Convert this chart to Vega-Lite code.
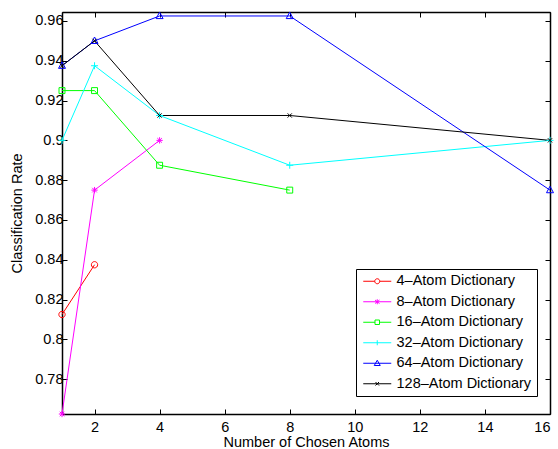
{
  "$schema": "https://vega.github.io/schema/vega-lite/v6.json",
  "width": 488,
  "height": 402,
  "autosize": {"type": "none"},
  "padding": {"left": 62, "top": 12, "right": 8, "bottom": 35},
  "background": "white",
  "config": {
    "font": "Liberation Sans",
    "view": {"stroke": "black", "strokeWidth": 1},
    "axis": {
      "domainColor": "black", "domainWidth": 1.5, "tickColor": "black", "tickWidth": 1,
      "tickSize": -5, "labelColor": "black", "labelFont": "Liberation Sans", "labelFontSize": 14.5,
      "titleFont": "Liberation Sans", "titleFontSize": 14.5, "titleFontWeight": "normal", "titleColor": "black",
      "grid": false
    },
    "legend": {
      "orient": "none", "legendX": 294, "legendY": 257, "strokeColor": "black", "fillColor": "white",
      "padding": 5, "labelFont": "Liberation Sans", "labelFontSize": 14.5, "labelColor": "black",
      "rowPadding": 5.5, "symbolSize": 100, "symbolOffset": 9, "labelOffset": 12, "symbolStrokeWidth": 1
    },
    "point": {"filled": false, "strokeWidth": 1, "size": 49, "opacity": 1, "clip": false}
  },
  "data": {"values": [
    {"n": 1, "rate": 0.8125, "dict": "4–Atom Dictionary"},
    {"n": 2, "rate": 0.8375, "dict": "4–Atom Dictionary"},
    {"n": 1, "rate": 0.7625, "dict": "8–Atom Dictionary"},
    {"n": 2, "rate": 0.875, "dict": "8–Atom Dictionary"},
    {"n": 4, "rate": 0.9, "dict": "8–Atom Dictionary"},
    {"n": 1, "rate": 0.925, "dict": "16–Atom Dictionary"},
    {"n": 2, "rate": 0.925, "dict": "16–Atom Dictionary"},
    {"n": 4, "rate": 0.8875, "dict": "16–Atom Dictionary"},
    {"n": 8, "rate": 0.875, "dict": "16–Atom Dictionary"},
    {"n": 1, "rate": 0.9, "dict": "32–Atom Dictionary"},
    {"n": 2, "rate": 0.9375, "dict": "32–Atom Dictionary"},
    {"n": 4, "rate": 0.9125, "dict": "32–Atom Dictionary"},
    {"n": 8, "rate": 0.8875, "dict": "32–Atom Dictionary"},
    {"n": 16, "rate": 0.9, "dict": "32–Atom Dictionary"},
    {"n": 1, "rate": 0.9375, "dict": "64–Atom Dictionary"},
    {"n": 2, "rate": 0.95, "dict": "64–Atom Dictionary"},
    {"n": 4, "rate": 0.9625, "dict": "64–Atom Dictionary"},
    {"n": 8, "rate": 0.9625, "dict": "64–Atom Dictionary"},
    {"n": 16, "rate": 0.875, "dict": "64–Atom Dictionary"},
    {"n": 1, "rate": 0.9375, "dict": "128–Atom Dictionary"},
    {"n": 2, "rate": 0.95, "dict": "128–Atom Dictionary"},
    {"n": 4, "rate": 0.9125, "dict": "128–Atom Dictionary"},
    {"n": 8, "rate": 0.9125, "dict": "128–Atom Dictionary"},
    {"n": 16, "rate": 0.9, "dict": "128–Atom Dictionary"}
  ]},
  "layer": [
    {
      "mark": {"type": "line", "strokeWidth": 1, "clip": false},
      "encoding": {
        "x": {"field": "n", "type": "quantitative", "scale": {"domain": [1, 16], "nice": false, "zero": false},
              "axis": {"orient": "bottom", "values": [2, 4, 6, 8, 10, 12, 14, 16], "labelPadding": 11, "title": "Number of Chosen Atoms", "titlePadding": 2}},
        "y": {"field": "rate", "type": "quantitative", "scale": {"domain": [0.7625, 0.9645], "nice": false, "zero": false},
              "axis": {"orient": "left", "values": [0.78, 0.8, 0.82, 0.84, 0.86, 0.88, 0.9, 0.92, 0.94, 0.96], "format": "~g", "labelPadding": 4, "title": "Classification Rate", "titlePadding": 10}},
        "color": {"field": "dict", "type": "nominal",
          "scale": {"domain": ["4–Atom Dictionary", "8–Atom Dictionary", "16–Atom Dictionary", "32–Atom Dictionary", "64–Atom Dictionary", "128–Atom Dictionary"],
                    "range": ["#ff0000", "#ff00ff", "#00ff00", "#00ffff", "#0000ff", "#000000"]},
          "legend": {"title": null, "symbolSize": 100}}
      }
    },
    {
      "transform": [{"filter": "datum.dict === '4–Atom Dictionary'"}],
      "mark": {"type": "point", "shape": "M-0.9,0A0.9,0.9,0,1,0,0.9,0A0.9,0.9,0,1,0,-0.9,0"},
      "encoding": {
        "x": {"field": "n", "type": "quantitative", "axis": {"orient": "top", "values": [2, 4, 6, 8, 10, 12, 14, 16], "labels": false, "title": null}},
        "y": {"field": "rate", "type": "quantitative", "axis": {"orient": "right", "values": [0.78, 0.8, 0.82, 0.84, 0.86, 0.88, 0.9, 0.92, 0.94, 0.96], "labels": false, "title": null}},
        "color": {"field": "dict", "type": "nominal"}
      }
    },
    {
      "transform": [{"filter": "datum.dict === '8–Atom Dictionary'"}],
      "mark": {"type": "point", "shape": "M-0.9,0L0.9,0M0,-0.9L0,0.9M-0.65,-0.65L0.65,0.65M-0.65,0.65L0.65,-0.65"},
      "encoding": {
        "x": {"field": "n", "type": "quantitative", "axis": null},
        "y": {"field": "rate", "type": "quantitative", "axis": null},
        "color": {"field": "dict", "type": "nominal"}
      }
    },
    {
      "transform": [{"filter": "datum.dict === '16–Atom Dictionary'"}],
      "mark": {"type": "point", "shape": "M-0.85,-0.85L0.85,-0.85L0.85,0.85L-0.85,0.85Z"},
      "encoding": {
        "x": {"field": "n", "type": "quantitative", "axis": null},
        "y": {"field": "rate", "type": "quantitative", "axis": null},
        "color": {"field": "dict", "type": "nominal"}
      }
    },
    {
      "transform": [{"filter": "datum.dict === '32–Atom Dictionary'"}],
      "mark": {"type": "point", "shape": "M-1,0L1,0M0,-1L0,1"},
      "encoding": {
        "x": {"field": "n", "type": "quantitative", "axis": null},
        "y": {"field": "rate", "type": "quantitative", "axis": null},
        "color": {"field": "dict", "type": "nominal"}
      }
    },
    {
      "transform": [{"filter": "datum.dict === '64–Atom Dictionary'"}],
      "mark": {"type": "point", "shape": "M0,-1.1L1,0.75L-1,0.75Z"},
      "encoding": {
        "x": {"field": "n", "type": "quantitative", "axis": null},
        "y": {"field": "rate", "type": "quantitative", "axis": null},
        "color": {"field": "dict", "type": "nominal"}
      }
    },
    {
      "transform": [{"filter": "datum.dict === '128–Atom Dictionary'"}],
      "mark": {"type": "point", "shape": "M-0.6,-0.6L0.6,0.6M-0.6,0.6L0.6,-0.6"},
      "encoding": {
        "x": {"field": "n", "type": "quantitative", "axis": null},
        "y": {"field": "rate", "type": "quantitative", "axis": null},
        "color": {"field": "dict", "type": "nominal"}
      }
    },
    {
      "transform": [{"filter": "false"}],
      "mark": {"type": "point", "size": 100},
      "encoding": {
        "x": {"field": "n", "type": "quantitative", "axis": null},
        "y": {"field": "rate", "type": "quantitative", "axis": null},
        "color": {"field": "dict", "type": "nominal", "legend": {"title": null, "symbolSize": 100}},
        "shape": {"field": "dict", "type": "nominal", "legend": {"title": null, "symbolSize": 100},
          "scale": {"domain": ["4–Atom Dictionary", "8–Atom Dictionary", "16–Atom Dictionary", "32–Atom Dictionary", "64–Atom Dictionary", "128–Atom Dictionary"],
                    "range": ["M-2.8,0L-0.5,0M0.5,0L2.8,0M-0.5,0A0.5,0.5,0,1,0,0.5,0A0.5,0.5,0,1,0,-0.5,0", "M-2.8,0L2.8,0M0,-0.5L0,0.5M-0.45,-0.35L0.45,0.35M-0.45,0.35L0.45,-0.35", "M-2.8,0L-0.45,0M0.45,0L2.8,0M-0.45,-0.45L0.45,-0.45L0.45,0.45L-0.45,0.45Z", "M-2.8,0L2.8,0M0,-0.5L0,0.5", "M-2.8,0L2.8,0M0,-0.6L0.6,0.45L-0.6,0.45Z", "M-2.8,0L2.8,0M-0.35,-0.35L0.35,0.35M-0.35,0.35L0.35,-0.35"]}}
      }
    }
  ],
  "resolve": {"axis": {"x": "independent", "y": "independent"}}
}
